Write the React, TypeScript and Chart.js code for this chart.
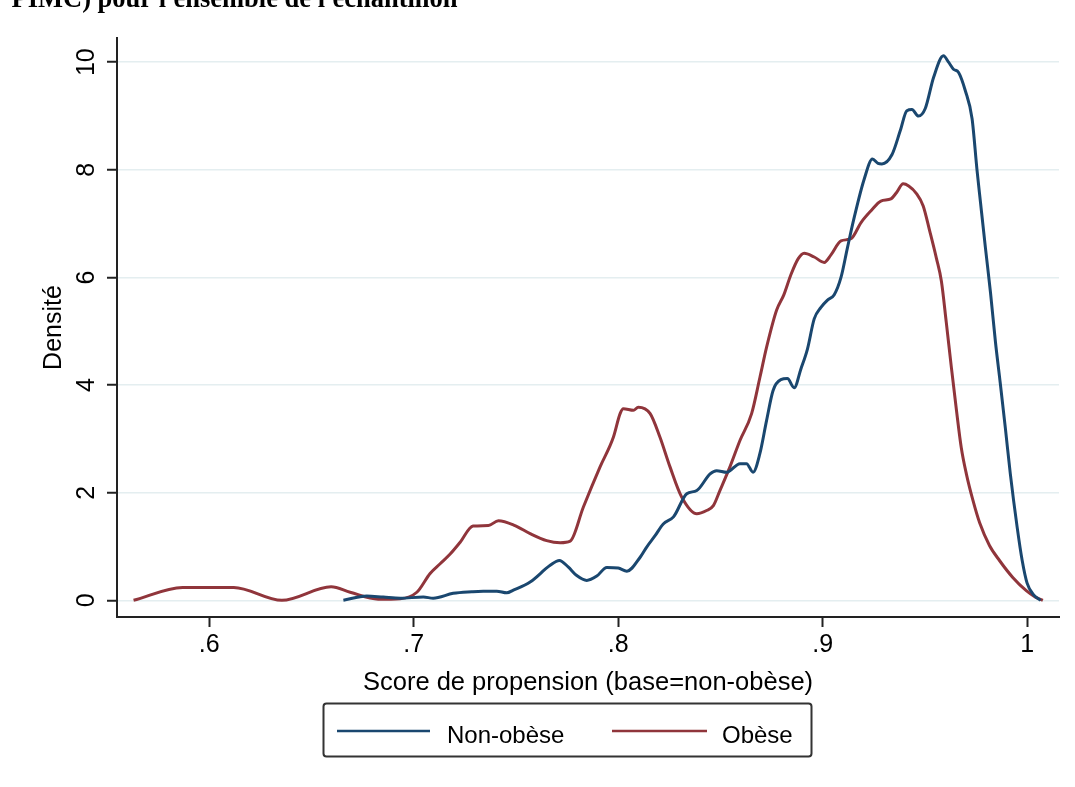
import React, { useEffect, useRef } from "react";
import { Chart, registerables } from "chart.js";

Chart.register(...registerables);

const pageTitle = "PIMC) pour l'ensemble de l'échantillon";
const xAxisTitle = "Score de propension (base=non-obèse)";
const yAxisTitle = "Densité";
const seriesNames = ["Non-obèse", "Obèse"];

const xTickValues = [0.6, 0.7, 0.8, 0.9, 1];
const xTickLabels = [".6", ".7", ".8", ".9", "1"];
const yTickValues = [0, 2, 4, 6, 8, 10];
const yTickLabels = ["0", "2", "4", "6", "8", "10"];

const nonObeseX = [
  0.6656, 0.677, 0.6851, 0.6934, 0.7047, 0.7095, 0.7193, 0.7284, 0.734, 0.7406,
  0.7455, 0.7487, 0.7569, 0.7667, 0.7712, 0.7755, 0.7797, 0.7846, 0.7895, 0.7944,
  0.8, 0.8042, 0.8107, 0.8139, 0.818, 0.822, 0.827, 0.8335, 0.8384, 0.8449,
  0.8481, 0.853, 0.8595, 0.8627, 0.8659, 0.8692, 0.8725, 0.8757, 0.8795, 0.8827,
  0.886, 0.8893, 0.8925, 0.8958, 0.899, 0.9023, 0.9056, 0.9089, 0.9121, 0.9154,
  0.9202, 0.9243, 0.927, 0.9289, 0.9338, 0.9379, 0.9411, 0.9436, 0.9468, 0.9501,
  0.9542, 0.959, 0.9615, 0.9639, 0.9664, 0.9697, 0.973, 0.9754, 0.9771, 0.9795,
  0.982, 0.9844, 0.9868, 0.9893, 0.9917, 0.995, 0.9975, 0.9999, 1.0031, 1.0065,
];
const nonObeseY = [
  0.0, 0.08, 0.06, 0.04, 0.06, 0.04, 0.13, 0.16, 0.17, 0.17,
  0.14, 0.19, 0.34, 0.65, 0.74, 0.62, 0.46, 0.37, 0.45, 0.61,
  0.6, 0.54, 0.8, 0.99, 1.2, 1.42, 1.55, 1.98, 2.04, 2.35,
  2.41, 2.38, 2.54, 2.54, 2.38, 2.72, 3.34, 3.9, 4.1, 4.12,
  3.95, 4.3, 4.67, 5.23, 5.44, 5.58, 5.68, 6.0, 6.56, 7.12,
  7.82, 8.2, 8.12, 8.11, 8.28, 8.73, 9.1, 9.12, 9.0, 9.14,
  9.72, 10.12, 10.0, 9.87, 9.81, 9.47, 8.95, 8.0, 7.4, 6.56,
  5.72, 4.81, 4.03, 3.19, 2.35, 1.37, 0.74, 0.32, 0.1, 0.0,
];

const obeseX = [
  0.563, 0.587, 0.612, 0.6355, 0.6596, 0.6689, 0.6826, 0.6934, 0.7015, 0.708,
  0.7129, 0.7178, 0.7227, 0.729, 0.7365, 0.7414, 0.7495, 0.7569, 0.765, 0.7716,
  0.7765, 0.7829, 0.7911, 0.7976, 0.8009, 0.8025, 0.8074, 0.8098, 0.8156, 0.8204,
  0.8253, 0.831, 0.8384, 0.8432, 0.8465, 0.8497, 0.8546, 0.8595, 0.8652, 0.8693,
  0.8725, 0.8774, 0.881, 0.8844, 0.888, 0.8909, 0.8958, 0.9007, 0.904, 0.9089,
  0.9138, 0.9187, 0.9236, 0.9284, 0.9333, 0.9361, 0.9393, 0.942, 0.9458, 0.9491,
  0.9523, 0.9556, 0.958, 0.9604, 0.9629, 0.9653, 0.9677, 0.9702, 0.9734, 0.9767,
  0.9815, 0.9864, 0.993, 0.9995, 1.004, 1.0076,
];
const obeseY = [
  0.0, 0.24, 0.24, 0.0, 0.25, 0.15, 0.02, 0.03, 0.15, 0.5,
  0.68, 0.86, 1.08, 1.38, 1.39, 1.48, 1.39, 1.24, 1.11, 1.07,
  1.1, 1.73, 2.48, 3.03, 3.47, 3.56, 3.53, 3.59, 3.47, 3.03,
  2.48, 1.92, 1.61, 1.67, 1.76, 2.04, 2.48, 2.97, 3.47, 4.15,
  4.7, 5.39, 5.68, 6.05, 6.35, 6.45, 6.38, 6.28, 6.42, 6.68,
  6.72, 7.02, 7.24, 7.42, 7.46, 7.58, 7.74, 7.7, 7.56, 7.33,
  6.86, 6.35, 5.93, 5.16, 4.32, 3.55, 2.84, 2.35, 1.86, 1.44,
  1.02, 0.74, 0.42, 0.18, 0.06, 0.0,
];

const BLUE = "#1a476f";
const RED = "#90353b";
const FONT = '"Liberation Sans", Arial, Helvetica, sans-serif';

const decorPlugin = {
  id: "decor",
  afterDraw(chart: any) {
    const ctx = chart.ctx;
    ctx.save();
    // partially visible caption at the top of the page
    ctx.fillStyle = "#000";
    ctx.font = 'bold 26.5px "Liberation Serif", "Times New Roman", serif';
    ctx.textBaseline = "alphabetic";
    ctx.textAlign = "left";
    ctx.fillText(pageTitle, 11.5, 6.5);

    // legend box
    const bx = 323.5, by = 703.5, bw = 488, bh = 53;
    ctx.strokeStyle = "#333";
    ctx.lineWidth = 2;
    ctx.beginPath();
    if ((ctx as any).roundRect) (ctx as any).roundRect(bx, by, bw, bh, 3);
    else ctx.rect(bx, by, bw, bh);
    ctx.stroke();

    const items = [
      { color: chart.data.datasets[0].borderColor, label: chart.data.datasets[0].label, x1: 337, x2: 430, tx: 447 },
      { color: chart.data.datasets[1].borderColor, label: chart.data.datasets[1].label, x1: 612, x2: 707, tx: 722 },
    ];
    ctx.font = `24px ${FONT}`;
    ctx.fillStyle = "#000";
    for (const it of items) {
      ctx.strokeStyle = it.color;
      ctx.lineWidth = 2.5;
      ctx.beginPath();
      ctx.moveTo(it.x1, 731);
      ctx.lineTo(it.x2, 731);
      ctx.stroke();
      ctx.fillText(it.label, it.tx, 743);
    }
    ctx.restore();
  },
};

export default function App() {
  const canvasRef = useRef<HTMLCanvasElement | null>(null);

  useEffect(() => {
    if (!canvasRef.current) return;
    Chart.defaults.font.family = FONT;
    const chart = new Chart(canvasRef.current, {
      type: "line",
      data: {
        datasets: [
          {
            label: seriesNames[0],
            data: nonObeseX.map((x, i) => ({ x, y: nonObeseY[i] })),
            borderColor: BLUE,
            backgroundColor: BLUE,
            borderWidth: 3,
            pointRadius: 0,
            fill: false,
            cubicInterpolationMode: "monotone",
          },
          {
            label: seriesNames[1],
            data: obeseX.map((x, i) => ({ x, y: obeseY[i] })),
            borderColor: RED,
            backgroundColor: RED,
            borderWidth: 3,
            pointRadius: 0,
            fill: false,
            cubicInterpolationMode: "monotone",
          },
        ],
      },
      options: {
        animation: false,
        responsive: false,
        maintainAspectRatio: false,
        layout: { padding: { left: 0, right: 16, top: 38, bottom: 0 } },
        plugins: {
          legend: { display: false },
          tooltip: { enabled: false },
          title: { display: false },
        },
        scales: {
          x: {
            type: "linear",
            min: 0.5549,
            max: 1.0155,
            afterBuildTicks: (s: any) => {
              s.ticks = xTickValues.map((v) => ({ value: v }));
            },
            afterFit: (s: any) => {
              s.height = 170;
            },
            ticks: {
              autoSkip: false,
              maxRotation: 0,
              minRotation: 0,
              padding: 3,
              color: "#000",
              font: { size: 25, family: FONT },
              callback: (_v: any, i: number) => xTickLabels[i],
            },
            grid: {
              drawOnChartArea: false,
              drawTicks: true,
              tickLength: 10,
              tickColor: "#222",
              tickWidth: 2,
            },
            border: { display: true, color: "#222", width: 2 },
            title: {
              display: true,
              text: xAxisTitle,
              color: "#000",
              font: { size: 25.5, family: FONT },
              padding: { top: 0, bottom: 89 },
            },
          },
          y: {
            type: "linear",
            min: -0.31,
            max: 10.45,
            afterBuildTicks: (s: any) => {
              s.ticks = yTickValues.map((v) => ({ value: v }));
            },
            afterFit: (s: any) => {
              s.width = 117;
            },
            ticks: {
              autoSkip: false,
              minRotation: 90,
              maxRotation: 90,
              crossAlign: "center",
              padding: 6,
              color: "#000",
              font: { size: 25, family: FONT },
              callback: (_v: any, i: number) => yTickLabels[i],
            },
            grid: {
              color: "#e4eef0",
              lineWidth: 1.5,
              drawTicks: true,
              tickLength: 10,
              tickColor: "#222",
              tickWidth: 2,
            },
            border: { display: true, color: "#222", width: 2 },
            title: {
              display: true,
              text: yAxisTitle,
              color: "#000",
              font: { size: 25, family: FONT },
              padding: { top: 39.3, bottom: 0 },
            },
          },
        },
      } as any,
      plugins: [decorPlugin],
    });
    return () => chart.destroy();
  }, []);

  return (
    <div style={{ position: "fixed", left: 0, top: 0, width: 1075, height: 787, background: "#fff" }}>
      <canvas ref={canvasRef} width={1075} height={787} style={{ width: 1075, height: 787, display: "block" }} />
    </div>
  );
}
